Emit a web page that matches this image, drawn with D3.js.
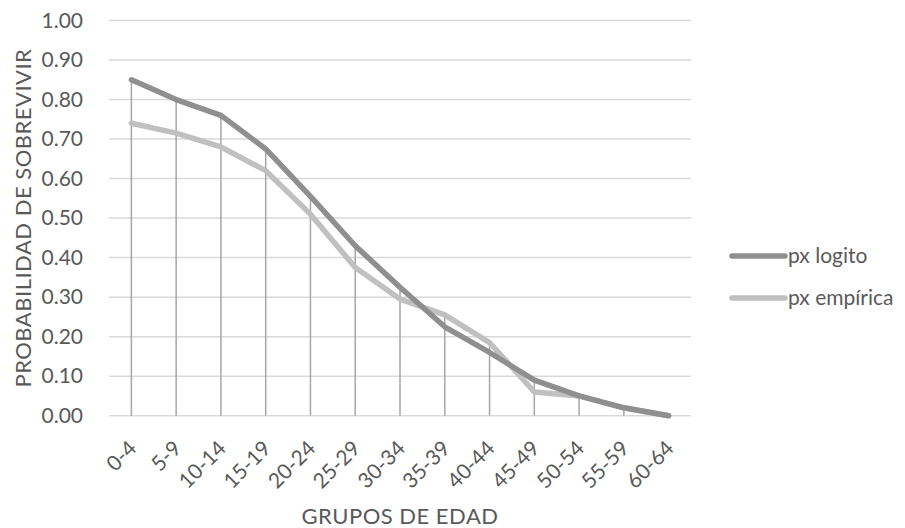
<!DOCTYPE html>
<html>
<head>
<meta charset="utf-8">
<script src="https://cdn.jsdelivr.net/npm/d3@7"></script>
<style>
  html, body { margin: 0; padding: 0; background: #fff; }
  svg text { font-family: Lato, "Open Sans", sans-serif; fill: #595959; }
</style>
</head>
<body>
<svg id="chart" width="905" height="528"></svg>
<script>
// Age groups and survival probabilities
const categories = ["0-4","5-9","10-14","15-19","20-24","25-29","30-34","35-39","40-44","45-49","50-54","55-59","60-64"];
const pxLogito   = [0.85, 0.80, 0.76, 0.675, 0.555, 0.43, 0.325, 0.225, 0.16, 0.09, 0.05, 0.02, 0.00];
const pxEmpirica = [0.74, 0.715, 0.68, 0.62, 0.51, 0.375, 0.295, 0.255, 0.185, 0.06, 0.05, 0.02, 0.00];
const yTicks = [0, 0.1, 0.2, 0.3, 0.4, 0.5, 0.6, 0.7, 0.8, 0.9, 1.0];
const seriesNames = ["px logito", "px empírica"];
const seriesColors = ["#8f8f8f", "#c0c0c0"];

const svg = d3.select("#chart");
const plot = { left: 109, right: 691, top: 20.5, bottom: 415.7 };

const x = d3.scalePoint().domain(categories).range([plot.left, plot.right]).padding(0.5);
const y = d3.scaleLinear().domain([0, 1]).range([plot.bottom, plot.top]);

// Horizontal gridlines
svg.append("g")
  .selectAll("line")
  .data(yTicks)
  .join("line")
  .attr("x1", plot.left).attr("x2", plot.right)
  .attr("y1", d => y(d)).attr("y2", d => y(d))
  .attr("stroke", "#d9d9d9").attr("stroke-width", 1.5);

// Y axis labels
const yAxis = d3.axisLeft(y).tickValues(yTicks).tickFormat(d3.format(".2f")).tickSize(0).tickPadding(26);
svg.append("g")
  .attr("transform", `translate(${plot.left},0)`)
  .call(yAxis)
  .call(g => g.select(".domain").remove())
  .selectAll("text")
  .style("font-size", "21px");

// Drop lines from the highest point in each category to the baseline
svg.append("g")
  .selectAll("line")
  .data(categories)
  .join("line")
  .attr("x1", d => x(d)).attr("x2", d => x(d))
  .attr("y1", y(0))
  .attr("y2", (d, i) => y(Math.max(pxLogito[i], pxEmpirica[i])))
  .attr("stroke", "#a6a6a6").attr("stroke-width", 1.5);

// X axis labels (rotated)
const xAxis = d3.axisBottom(x).tickSize(0).tickPadding(0);
svg.append("g")
  .attr("transform", `translate(0,${plot.bottom})`)
  .call(xAxis)
  .call(g => g.select(".domain").remove())
  .selectAll("text")
  .style("font-size", "21px")
  .attr("text-anchor", "end")
  .attr("y", 0)
  .attr("dy", null)
  .attr("transform", "translate(6,34) rotate(-45)");

// Series lines
const line = d3.line()
  .x((d, i) => x(categories[i]))
  .y(d => y(d));

[pxEmpirica, pxLogito].forEach((vals, k) => {
  const color = k === 0 ? seriesColors[1] : seriesColors[0];
  svg.append("path")
    .datum(vals)
    .attr("d", line)
    .attr("fill", "none")
    .attr("stroke", color)
    .attr("stroke-width", 5.5)
    .attr("stroke-linejoin", "round")
    .attr("stroke-linecap", "round");
});

// Axis titles
svg.append("text")
  .attr("transform", `translate(31,${(plot.top + plot.bottom) / 2 + 0}) rotate(-90)`)
  .attr("text-anchor", "middle")
  .style("font-size", "22px")
  .style("letter-spacing", "0.5px")
  .text("PROBABILIDAD DE SOBREVIVIR");

svg.append("text")
  .attr("x", 400).attr("y", 524)
  .attr("text-anchor", "middle")
  .style("font-size", "22px")
  .style("letter-spacing", "0.5px")
  .text("GRUPOS DE EDAD");

// Legend
const legend = svg.append("g");
seriesNames.forEach((name, i) => {
  const ly = 256 + i * 42;
  legend.append("line")
    .attr("x1", 732).attr("x2", 785)
    .attr("y1", ly).attr("y2", ly)
    .attr("stroke", seriesColors[i]).attr("stroke-width", 5.5)
    .attr("stroke-linecap", "round");
  legend.append("text")
    .attr("x", 788).attr("y", ly + 6.5)
    .style("font-size", "21px")
    .text(name);
});
</script>
</body>
</html>
